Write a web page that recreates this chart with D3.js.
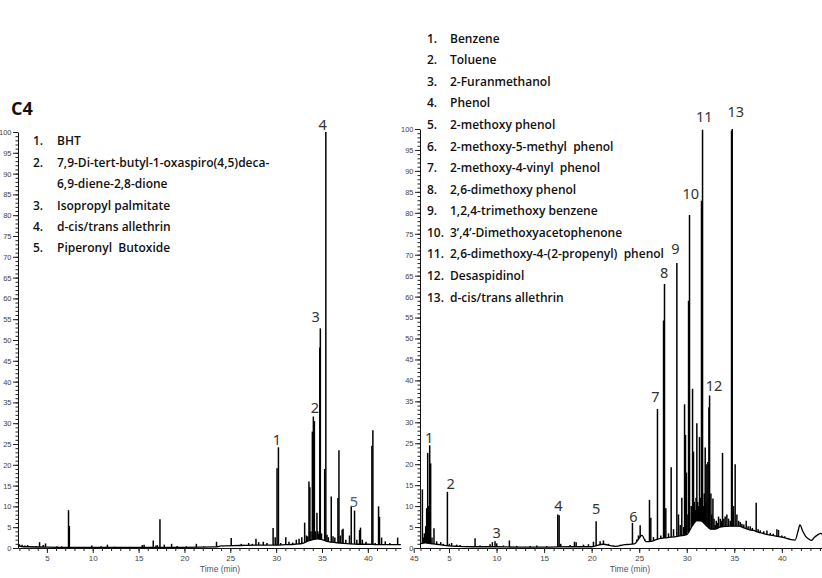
<!DOCTYPE html>
<html><head><meta charset="utf-8">
<script src="https://cdn.jsdelivr.net/npm/d3@7"></script>
<style>
html,body{margin:0;padding:0;background:#fff;}
svg{display:block;}
text{white-space:pre;}
</style></head>
<body>
<svg id="c" width="822" height="578"></svg>
<script>
// ---------- DATA ----------
const yTicks = d3.range(0, 101, 5);
const xTickLabels = [5, 10, 15, 20, 25, 30, 35, 40, 45];

const leftBaseline = [[1.85,0.5],[2.5,0.3],[3,0.3],[5,0.2],[7,0.15],[10,0.15],[15,0.15],[20,0.15],[23.5,0.25],[24,0.5],[26,0.6],[28,0.7],[30,0.7],[31,0.8],[32,0.9],[33,1.2],[33.5,1.7],[34,2.0],[34.5,2.2],[35,2.0],[35.5,1.6],[36,1.4],[37,1.2],[38,1.0],[39,0.9],[40,0.9],[41,0.8],[42,0.8],[43.6,0.8]];
const leftPeaks = [[2.0,0.9],[2.3,0.8],[2.6,0.6],[2.9,0.7],[3.4,0.5],[3.8,0.5],[4.2,1.4],[4.6,0.7],[4.85,1.1],[6.1,0.4],[6.6,0.4],[7.36,9.1],[7.45,5.3],[9.9,0.6],[10.9,0.4],[11.6,0.8],[12.4,0.3],[15.4,0.7],[15.6,0.8],[16.6,1.8],[16.9,0.6],[17.05,0.7],[17.33,6.9],[17.8,0.8],[18.6,1.0],[19.2,0.5],[20.2,0.4],[21.3,1.0],[22.1,0.4],[23.5,1.5],[25.1,2.4],[26.2,1.0],[26.5,0.8],[27.0,1.2],[27.4,1.0],[27.8,2.2],[28.1,1.4],[28.6,1.5],[29.0,1.2],[29.67,4.8],[29.9,2.6],[30.1,19.2],[30.25,24.2],[30.5,1.2],[31.05,2.6],[31.4,1.5],[31.8,1.3],[32.2,2.0],[32.5,2.2],[32.8,2.6],[33.11,6.1],[33.3,3.0],[33.45,2.8],[33.58,16.0],[33.68,14.6],[33.8,4.0],[33.95,28.0],[34.06,31.6],[34.17,30.5],[34.3,4.0],[34.45,8.5],[34.55,4.0],[34.65,3.4],[34.76,48.2],[34.82,52.8],[34.95,3.5],[35.29,19.0],[35.42,100],[35.55,3.2],[35.7,2.6],[36.01,12.4],[36.2,2.8],[36.4,2.5],[36.74,12.0],[36.85,23.5],[37.0,3.0],[37.2,4.4],[37.3,4.6],[37.6,2.0],[38.0,3.0],[38.19,10.0],[38.55,9.0],[38.8,2.0],[39.1,4.3],[39.2,4.9],[39.4,2.0],[39.8,1.5],[40.44,24.6],[40.55,28.3],[40.8,1.2],[41.17,10.0],[41.27,7.5],[41.5,2.5],[41.9,1.6],[42.4,1.2],[43.25,2.5]];
const leftLabels = [["1",30.09,26.1],["2",34.23,33.8],["3",34.3,55.5],["4",35.07,101.8],["5",38.48,11.0]];
const leftLegend = [["1.","BHT"],["2.","7,9-Di-tert-butyl-1-oxaspiro(4,5)deca-"],["","6,9-diene-2,8-dione"],["3.","Isopropyl palmitate"],["4.","d-cis/trans allethrin"],["5.","Piperonyl  Butoxide"]];

const rightBaseline = [[1.95,1.0],[2.5,1.2],[3.3,1.0],[4,0.8],[5,0.5],[6,0.4],[8,0.3],[10,0.3],[12,0.2],[15,0.2],[18,0.3],[20,0.3],[21.2,0.9],[22.5,0.4],[23.5,0.8],[24.5,1.0],[25.3,3.0],[25.7,1.5],[26.3,1.6],[27,2.2],[28,2.5],[29,2.8],[30,3.2],[30.5,5.0],[31,6.5],[31.5,6.5],[32,5.5],[32.5,4.5],[33,4.5],[33.5,5.0],[34.5,5.2],[35.5,5.2],[36,4.8],[36.5,4.4],[37,4.2],[37.5,3.8],[38,3.5],[38.5,3.2],[39,3.0],[39.5,2.8],[40,2.6],[40.5,2.3],[41,2.0],[41.4,1.9],[41.7,4.0],[41.9,5.5],[42.2,4.0],[42.5,2.8],[42.8,2.2],[43.1,1.8],[43.4,2.5],[43.8,3.2],[44.1,3.5],[44.4,2.8],[44.6,2.3]];
const rightPeaks = [[2.2,14],[2.3,2.5],[2.41,3.5],[2.55,5.2],[2.65,9.5],[2.76,22.7],[2.86,10],[2.97,24.5],[3.07,20.2],[3.21,2.5],[3.42,4.7],[3.7,1.6],[4.13,1.4],[4.4,1.0],[4.83,13.4],[5.04,1.0],[5.28,1.2],[5.81,0.8],[6.16,0.7],[6.86,0.5],[7.74,2.3],[8.26,0.6],[9.32,0.9],[9.56,1.4],[9.84,1.6],[10.02,1.1],[10.72,0.6],[11.35,1.8],[12.12,0.5],[13.53,0.5],[14.23,0.6],[15.28,0.5],[16.44,8.0],[16.58,7.8],[16.75,1.0],[17.73,0.7],[18.19,1.5],[18.37,1.4],[19.14,0.8],[19.66,0.9],[20.19,1.5],[20.47,6.4],[20.89,1.6],[21.24,1.8],[21.77,1.0],[22.3,0.6],[23.0,0.8],[23.7,1.0],[24.29,6.0],[24.75,2.0],[24.92,3.0],[25.1,5.4],[25.63,2.0],[26.08,11.5],[26.22,7.2],[26.5,2.6],[26.92,33.2],[27.27,3.0],[27.56,54.3],[27.66,63],[27.8,9.5],[28.08,3.5],[28.36,19.3],[28.61,4.5],[28.96,68],[29.13,8],[29.31,5.5],[29.48,12],[29.66,5],[29.77,34.3],[29.87,27],[29.97,18],[30.12,8],[30.19,59],[30.29,79.5],[30.47,10],[30.61,38],[30.71,23],[30.8,11],[30.89,9],[30.98,12],[31.06,29.8],[31.15,11],[31.24,10],[31.34,26.5],[31.45,12],[31.55,82.9],[31.66,99.8],[31.75,10],[31.84,13],[31.94,24],[32.02,11],[32.11,20],[32.22,20.5],[32.29,12],[32.33,33.6],[32.4,36.4],[32.54,13],[32.63,8],[32.75,11.8],[32.87,7],[32.99,5.5],[33.1,6.5],[33.22,6],[33.34,7.5],[33.52,7],[33.64,6.5],[33.76,22.7],[33.9,7],[34.04,7.5],[34.22,8],[34.39,7],[34.57,6.5],[34.71,99.6],[34.78,100],[34.92,10],[35.09,20],[35.27,8],[35.45,6.5],[35.62,6.2],[35.8,5.8],[36.0,5.6],[36.25,6.5],[36.45,5.2],[36.67,5.2],[36.9,4.8],[37.3,10.8],[37.5,4.5],[37.73,4.2],[38.1,4.0],[38.43,4.2],[38.78,3.6],[39.1,3.4],[39.48,4.5],[39.65,4.3],[40.0,3.0],[40.3,2.8],[40.7,2.4]];
const rightLabels = [["1",2.9,26.4],["2",5.18,15.4],["3",10.02,3.7],["4",16.5,10.1],["5",20.46,9.3],["6",24.39,7.5],["7",26.7,36.2],["8",27.61,65.8],["9",28.8,71.4],["10",30.42,84.6],["11",31.85,102.9],["12",32.87,38.8],["13",35.15,104.1]];
const rightLegend = [["1.","Benzene"],["2.","Toluene"],["3.","2-Furanmethanol"],["4.","Phenol"],["5.","2-methoxy phenol"],["6.","2-methoxy-5-methyl  phenol"],["7.","2-methoxy-4-vinyl  phenol"],["8.","2,6-dimethoxy phenol"],["9.","1,2,4-trimethoxy benzene"],["10.","3\u2019,4\u2019-Dimethoxyacetophenone"],["11.","2,6-dimethoxy-4-(2-propenyl)  phenol"],["12.","Desaspidinol"],["13.","d-cis/trans allethrin"]];

const titleText = "C4";
const xTitle = "Time (min)";

// ---------- DRAW ----------
const svg = d3.select("#c");
const legendFont = "'Open Sans', 'Noto Sans', sans-serif";
const tickFont = "'Liberation Sans', Arial, sans-serif";

function panel(cfg) {
  const x = d3.scaleLinear().domain(cfg.tDomain).range(cfg.xRange);
  const y = d3.scaleLinear().domain([0, 100]).range(cfg.yRange);
  const g = svg.append("g");
  const baseFn = d3.scaleLinear().domain(cfg.baseline.map(d => d[0])).range(cfg.baseline.map(d => d[1])).clamp(true);

  const yMinor = g.append("g").attr("transform", `translate(${cfg.xRange[0]},0)`)
    .call(d3.axisLeft(y).tickValues(d3.range(0, 101, 1)).tickSize(2.5).tickSizeOuter(0).tickFormat(""));
  yMinor.select(".domain").remove();
  const yMajor = g.append("g").attr("transform", `translate(${cfg.xRange[0]},0)`)
    .call(d3.axisLeft(y).tickValues(yTicks).tickSize(5).tickSizeOuter(0).tickPadding(1.5));
  yMajor.selectAll("text").attr("font-family", tickFont).attr("font-size", 7.5).attr("fill", "#444");
  g.selectAll(".tick line").attr("stroke", "#222");
  g.selectAll(".domain").attr("stroke", "#111");

  const xMinor = g.append("g").attr("transform", `translate(0,${cfg.yRange[0]})`)
    .call(d3.axisBottom(x).tickValues(d3.range(Math.ceil(cfg.tDomain[0]), Math.floor(cfg.tDomain[1]) + 1, 1)).tickSize(3).tickSizeOuter(0).tickFormat(""));
  xMinor.selectAll("line").attr("stroke", "#222");
  const xMajor = g.append("g").attr("transform", `translate(0,${cfg.yRange[0]})`)
    .call(d3.axisBottom(x).tickValues(xTickLabels).tickSize(5).tickSizeOuter(0).tickPadding(2));
  xMajor.select(".domain").remove();
  xMinor.select(".domain").attr("stroke", "#111");
  xMajor.selectAll("text").attr("font-family", tickFont).attr("font-size", 8).attr("fill", "#444");
  xMajor.selectAll("line").attr("stroke", "#222");

  g.append("text").attr("x", cfg.xTitleX).attr("y", 572).attr("text-anchor", "middle")
    .attr("font-family", tickFont).attr("font-size", 8.5).attr("fill", "#555").text(xTitle);

  const line = d3.line().x(d => x(d[0])).y(d => y(d[1])).curve(d3.curveMonotoneX);
  g.append("path").datum(cfg.baseline).attr("d", line)
    .attr("fill", "none").attr("stroke", "#000").attr("stroke-width", 1.3);
  g.append("g").selectAll("line").data(cfg.peaks).join("line")
    .attr("x1", d => x(d[0])).attr("x2", d => x(d[0]))
    .attr("y1", d => y(baseFn(d[0]))).attr("y2", d => y(d[1]))
    .attr("stroke", "#000").attr("stroke-width", 1.5);

  g.append("g").selectAll("text").data(cfg.labels).join("text")
    .attr("x", d => x(d[1])).attr("y", d => y(d[2])).attr("dy", "0.36em")
    .attr("text-anchor", "middle").attr("font-family", "'Noto Sans', sans-serif")
    .attr("font-size", 14.5).attr("fill", d => cfg.labelColor(d)).text(d => d[0]);

  const lg = g.append("g");
  cfg.legend.forEach((row, i) => {
    const yy = cfg.legendY0 + i * cfg.legendDy;
    lg.append("text").attr("x", cfg.numX).attr("y", yy).attr("dy", "0.36em")
      .attr("font-family", legendFont).attr("font-weight", 600).attr("font-size", 12).attr("fill", "#111").text(row[0]);
    lg.append("text").attr("x", cfg.textX).attr("y", yy).attr("dy", "0.36em")
      .attr("font-family", legendFont).attr("font-weight", 600).attr("font-size", 12).attr("fill", "#111").text(row[1]);
  });
}

panel({
  tDomain: [1.85, 43.6], xRange: [18, 18 + 9.17 * (43.6 - 1.85)], yRange: [548, 132],
  baseline: leftBaseline, peaks: leftPeaks, labels: leftLabels, legend: leftLegend,
  labelColor: d => d[0] === "5" ? "#3d5f8f" : "#333",
  legendY0: 141, legendDy: 21.4, numX: 33, textX: 57, xTitleX: 220
});
panel({
  tDomain: [1.95, 44.2], xRange: [420, 420 + 9.51 * (44.2 - 1.95)], yRange: [548, 129],
  baseline: rightBaseline, peaks: rightPeaks, labels: rightLabels, legend: rightLegend,
  labelColor: () => "#333",
  legendY0: 38.3, legendDy: 21.58, numX: 427, textX: 450, xTitleX: 630
});

svg.append("text").attr("x", 11).attr("y", 115).attr("font-family", "'Open Sans', 'Noto Sans', sans-serif")
  .attr("font-weight", 700).attr("font-size", 18).attr("fill", "#111").text(titleText);
</script>
</body></html>
